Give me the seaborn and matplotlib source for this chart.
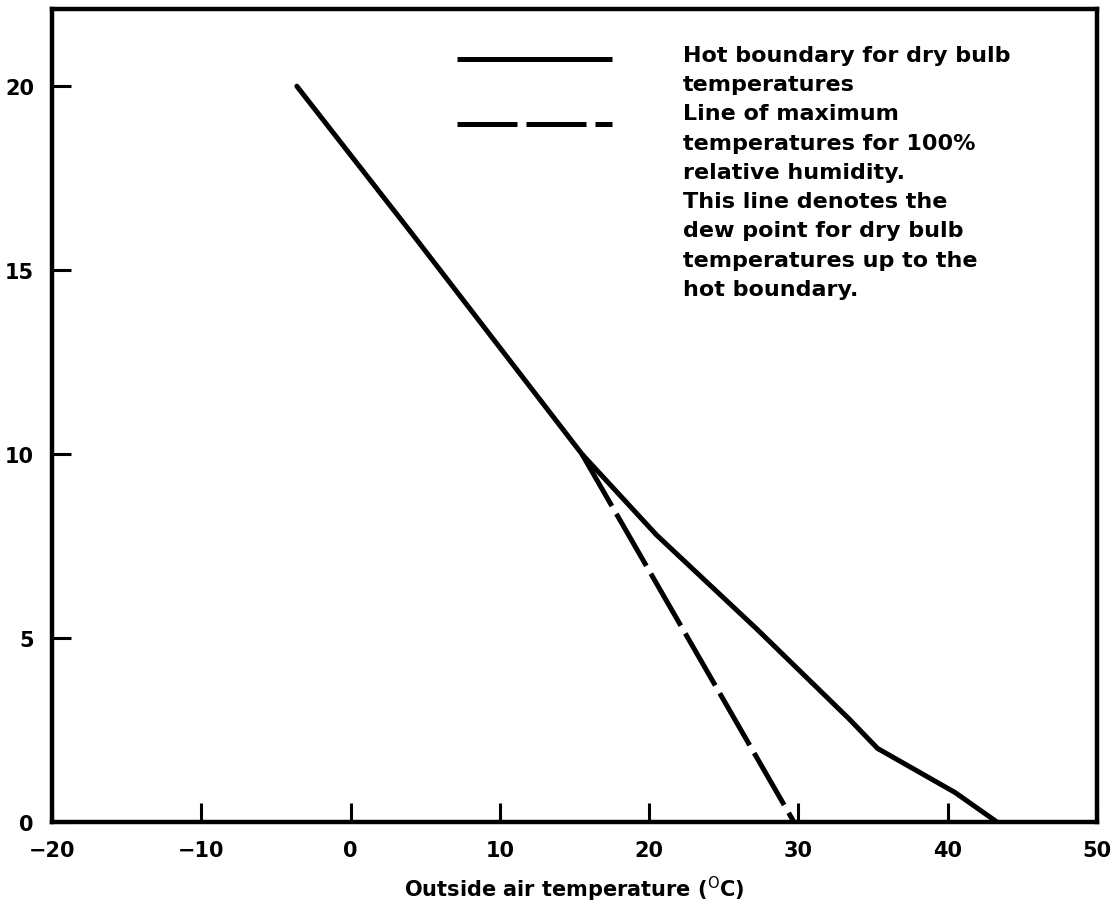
import matplotlib
matplotlib.use("Agg")
import matplotlib.pyplot as plt
import seaborn as sns
import pandas as pd

# Hot boundary for dry bulb temperatures (outside air temp, value)
hot_x = [-3.6, 4.1, 15.5, 20.5, 27.2, 33.4, 35.3, 40.5, 43.3]
hot_y = [20.0, 16.0, 10.0, 7.8, 5.25, 2.8, 2.0, 0.8, 0.0]

# Line of maximum temperatures for 100% relative humidity
dew_x = [15.5, 29.7]
dew_y = [10.0, 0.0]

x_ticks = [-20, -10, 0, 10, 20, 30, 40, 50]
y_ticks = [0, 5, 10, 15, 20]

key_text = ("Hot boundary for dry bulb\ntemperatures\n"
            "Line of maximum\ntemperatures for 100%\nrelative humidity.\n"
            "This line denotes the\ndew point for dry bulb\n"
            "temperatures up to the\nhot boundary.")
x_label = r"Outside air temperature ($^{\rm O}$C)"

sns.set_theme(style="ticks")
plt.rcParams["font.family"] = ["DejaVu Sans"]
plt.rcParams["text.color"] = "black"
plt.rcParams["axes.labelcolor"] = "black"
plt.rcParams["mathtext.default"] = "bf"

fig = plt.figure(figsize=(11.14, 9.12), dpi=100)
ax = fig.add_axes([0.0467, 0.0976, 0.938, 0.8915])

hot_df = pd.DataFrame({"x": hot_x, "y": hot_y})
dew_df = pd.DataFrame({"x": dew_x, "y": dew_y})

sns.lineplot(data=hot_df, x="x", y="y", sort=False, estimator=None,
             color="black", lw=3.6, ax=ax)
sns.lineplot(data=dew_df, x="x", y="y", sort=False, estimator=None,
             color="black", lw=3.6, ax=ax, linestyle=(0, (12, 1.8)))

ax.set_xlim(-20, 50)
ax.set_ylim(0, 22.1)
ax.set_xticks(x_ticks)
ax.set_yticks(y_ticks)
ax.set_xticklabels(["\u221220", "\u221210", "0", "10", "20", "30", "40", "50"])
ax.tick_params(axis="both", direction="in", length=14, width=2.2,
               labelsize=15, color="black", labelcolor="black")
ax.tick_params(axis="x", pad=13)
ax.tick_params(axis="y", pad=13)
for lab in ax.get_xticklabels() + ax.get_yticklabels():
    lab.set_fontweight("bold")

for side in ["left", "right", "top", "bottom"]:
    ax.spines[side].set_visible(True)
    ax.spines[side].set_color("black")
    ax.spines[side].set_linewidth(3.2)

ax.set_xlabel(x_label, fontsize=15, fontweight="bold", labelpad=10)
ax.set_ylabel("")

# key lines and their description
ax.plot([0.3876, 0.536], [0.9385, 0.9385], transform=ax.transAxes,
        color="black", lw=3.6, solid_capstyle="butt")
ax.plot([0.3876, 0.536], [0.858, 0.858], transform=ax.transAxes,
        color="black", lw=3.6, linestyle=(0, (12, 1.8)))
ax.text(0.604, 0.956, key_text, transform=ax.transAxes, va="top", ha="left",
        fontsize=16, fontweight="bold", linespacing=1.58)

fig.savefig("out.png", dpi=100, facecolor="white")
